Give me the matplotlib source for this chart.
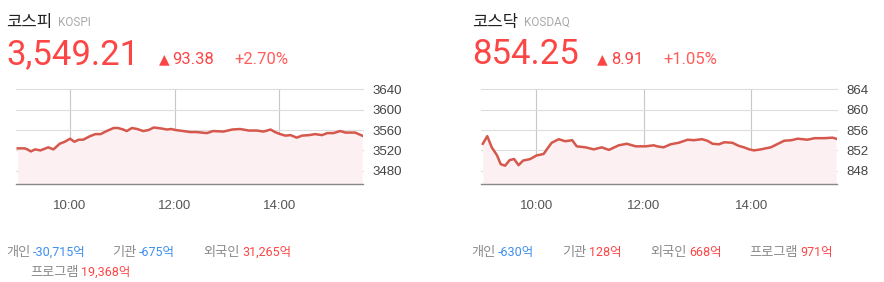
import matplotlib.pyplot as plt

plt.rcParams['font.family'] = ['Roboto', 'Noto Sans CJK KR', 'DejaVu Sans']

# --- data (minutes after 09:00) ---
kospi_t = [0, 8, 11, 15, 20, 26, 35, 41, 48, 54, 60, 65, 70, 75, 83, 89, 95, 102,
           110, 115, 121, 125, 131, 137, 144, 150, 156, 165, 171, 176, 181, 190,
           198, 205, 217, 224, 236, 246, 255, 265, 274, 282, 290, 295, 301, 307,
           313, 320, 326, 334, 341, 349, 355, 362, 370, 376, 387, 395]
kospi_v = [3524, 3524, 3522, 3518, 3522, 3520, 3526, 3522, 3533, 3537, 3543, 3537,
           3541, 3541, 3548, 3552, 3552, 3558, 3564, 3564, 3561, 3558, 3564, 3562,
           3558, 3560, 3565, 3563, 3561, 3562, 3560, 3558, 3556, 3556, 3554, 3558,
           3557, 3561, 3562, 3559, 3559, 3557, 3561, 3556, 3552, 3549, 3550, 3545,
           3549, 3550, 3552, 3550, 3554, 3554, 3558, 3555, 3555, 3549]

kosdaq_t = [0, 5, 10, 16, 20, 25, 30, 35, 40, 45, 53, 60, 68, 72, 77, 85, 92, 100,
            105, 115, 124, 133, 141, 152, 161, 171, 182, 191, 195, 202, 210, 219,
            229, 236, 245, 251, 257, 264, 270, 279, 286, 292, 298, 303, 311, 316,
            322, 330, 337, 345, 352, 363, 371, 382, 391, 395]
kosdaq_v = [853.3, 854.8, 852.6, 851.0, 849.3, 849.0, 850.1, 850.3, 849.1, 850.0,
            850.3, 851.0, 851.3, 852.3, 853.5, 854.2, 853.8, 854.0, 852.8, 852.6,
            852.2, 852.6, 852.1, 853.0, 853.3, 852.8, 852.8, 853.0, 852.8, 852.6,
            853.2, 853.5, 854.1, 854.0, 854.2, 853.9, 853.3, 853.2, 853.6, 853.5,
            852.9, 852.6, 852.2, 852.0, 852.2, 852.4, 852.6, 853.3, 853.9, 854.0,
            854.3, 854.1, 854.4, 854.4, 854.5, 854.3]

tick_minutes = [60, 180, 300]
tick_labels = ['10:00', '12:00', '14:00']

kospi_yticks = [3480, 3520, 3560, 3600, 3640]
kosdaq_yticks = [848, 852, 856, 860, 864]

kospi_head = ['3,549.21', '93.38', '+2.70%']
kosdaq_head = ['854.25', '8.91', '+1.05%']

kospi_flow = [('개인', '-30,715억'), ('기관', '-675억'), ('외국인', '31,265억'), ('프로그램', '19,368억')]
kosdaq_flow = [('개인', '-630억'), ('기관', '128억'), ('외국인', '668억'), ('프로그램', '971억')]

W, H = 884, 282
RED = '#fc4646'
BLUE = '#3d8ef0'
GRAY = '#8a8a8a'
LINE = '#d6574b'
FILL = '#fdf0f2'

fig = plt.figure(figsize=(W / 100, H / 100), dpi=100)


def px(x, y):
    return x / W, 1 - y / H


def chained(prev, s, gap, y, **kw):
    # x follows the end of the previous text, y sits on the given baseline
    return fig.add_artist(plt.Annotation(s, xy=(1, 1 - y / H),
                                         xycoords=(prev, 'figure fraction'),
                                         xytext=(gap, 0), textcoords='offset pixels',
                                         va='baseline', ha='left', **kw))


def draw_chart(left, right, t, v, yticks, ylim):
    ax = fig.add_axes([left / W, 1 - 184 / H, (right - left) / W, (184 - 89.3) / H])
    ax.plot(t, v, color=LINE, lw=1.8, solid_joinstyle='round', zorder=3)
    ax.fill_between(t, v, ylim[0], color=FILL, lw=0, zorder=2)
    ax.set_xlim(-2, 396)
    ax.set_ylim(*ylim)
    ax.set_xticks(tick_minutes)
    ax.set_xticklabels(tick_labels)
    ax.set_yticks(yticks)
    ax.yaxis.tick_right()
    for s in ['top', 'left', 'right']:
        ax.spines[s].set_visible(False)
    ax.spines['bottom'].set_color('#888888')
    ax.spines['bottom'].set_linewidth(1.0)
    ax.grid(axis='y', color='#dddddd', lw=0.8, zorder=0, clip_on=False)
    ax.grid(axis='x', color='#c8c8c8', lw=0.8, zorder=0)
    ax.tick_params(axis='y', length=0, pad=7, labelsize=9.5, labelcolor='#444444')
    ax.tick_params(axis='x', length=0, pad=11.5, labelsize=9.5, labelcolor='#555555')
    for lab in ax.get_xticklabels() + ax.get_yticklabels():
        lab.set_family('Liberation Sans')
    return ax


def draw_header(x, name, code, head, tri_x, pct_x):
    t = fig.text(*px(x, 26.5), name, family='Noto Sans CJK KR', fontsize=12,
                 color='#222222', va='baseline')
    chained(t, code, 6, 26, fontsize=8.5, color='#aaaaaa')
    fig.text(*px(x, 64), head[0], fontsize=25, color=RED, va='baseline')
    tri = fig.text(*px(tri_x, 63), '▲', family='DejaVu Sans', fontsize=10,
                   color=RED, va='baseline')
    chained(tri, head[1], 3, 64, fontsize=12, color=RED)
    fig.text(*px(pct_x, 64), head[2], fontsize=12, color='#ff5c5c', va='baseline')


def draw_flow(items, positions):
    for (name, val), (x, y) in zip(items, positions):
        t = fig.text(*px(x, y), name, family='Noto Sans CJK KR', fontsize=9.5,
                     color=GRAY, va='baseline')
        chained(t, val, 3, y, fontsize=9, color=BLUE if val.startswith('-') else RED)


draw_chart(16, 363, kospi_t, kospi_v, kospi_yticks, (3454, 3640))
draw_chart(481, 837, kosdaq_t, kosdaq_v, kosdaq_yticks, (845.4, 864))

draw_header(6, '코스피', 'KOSPI', kospi_head, 159, 234)
draw_header(472, '코스닥', 'KOSDAQ', kosdaq_head, 597, 663)

draw_flow(kospi_flow, [(6, 256), (112, 256), (203, 256), (30, 276)])
draw_flow(kosdaq_flow, [(471, 256), (562, 256), (650, 256), (749, 256)])

fig.savefig('out.png', dpi=100)
